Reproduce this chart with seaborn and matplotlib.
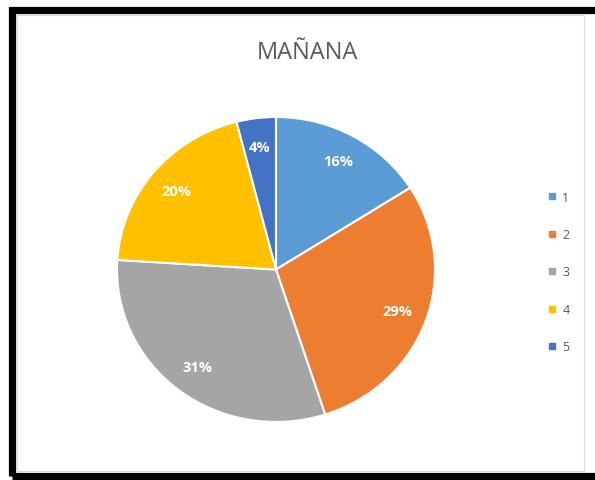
import matplotlib
matplotlib.use("Agg")
import matplotlib.pyplot as plt
from matplotlib.lines import Line2D
from matplotlib.patches import Rectangle
import seaborn as sns

categories = ["1", "2", "3", "4", "5"]
shares = [16, 29, 31, 20, 4]
colors = ["#5B9BD5", "#ED7D31", "#A5A5A5", "#FFC000", "#4472C4"]
title = "MAÑANA"

sns.set_theme(style="white")
plt.rcParams["font.family"] = ["Open Sans", "DejaVu Sans"]

W, H = 595, 481
fig = plt.figure(figsize=(W / 100, H / 100), dpi=100)
fig.patch.set_facecolor("white")

# pie bounding box in pixels (left, top, right, bottom)
px_l, px_t, px_r, px_b = 117, 118, 435, 423
ax = fig.add_axes([px_l / W, (H - px_b) / H, (px_r - px_l) / W, (px_b - px_t) / H])

wedges, texts, autotexts = ax.pie(
    shares,
    colors=colors,
    startangle=90,
    counterclock=False,
    autopct=lambda p: f"{p:.0f}%",
    pctdistance=0.81,
    wedgeprops=dict(edgecolor="white", linewidth=1.5),
    textprops=dict(color="white", fontsize=10.5, fontweight="bold"),
)
ax.set_aspect("auto")
ax.set_xlim(-1, 1)
ax.set_ylim(-1, 1)
ax.axis("off")
for t in autotexts:
    t.set_clip_on(False)

fig.text(307 / W, 1 - 53 / H, title, ha="center", va="center",
         fontsize=17, color="#595959")

handles = [Line2D([0], [0], marker="s", linestyle="none", markersize=5,
                  markerfacecolor=c, markeredgecolor=c) for c in colors]
fig.legend(handles, categories, loc="center", bbox_to_anchor=(559 / W, 1 - 273 / H),
           frameon=False, fontsize=9, labelcolor="#595959", labelspacing=1.95,
           handlelength=0.6, handletextpad=0.5, borderpad=0)

# chart-area border and outer frame
fig.patches.append(Rectangle((17 / W, 1 - 472 / H), (584 - 17) / W, (472 - 16) / H,
                             transform=fig.transFigure, fill=False,
                             edgecolor="#D9D9D9", linewidth=0.8))
fig.patches.append(Rectangle((11.5 / W, 1 - 477 / H), (620 - 11.5) / W, (477 - 10.5) / H,
                             transform=fig.transFigure, fill=False,
                             edgecolor="black", linewidth=5.2, clip_on=False))

fig.savefig("out.png", dpi=100, facecolor="white")
